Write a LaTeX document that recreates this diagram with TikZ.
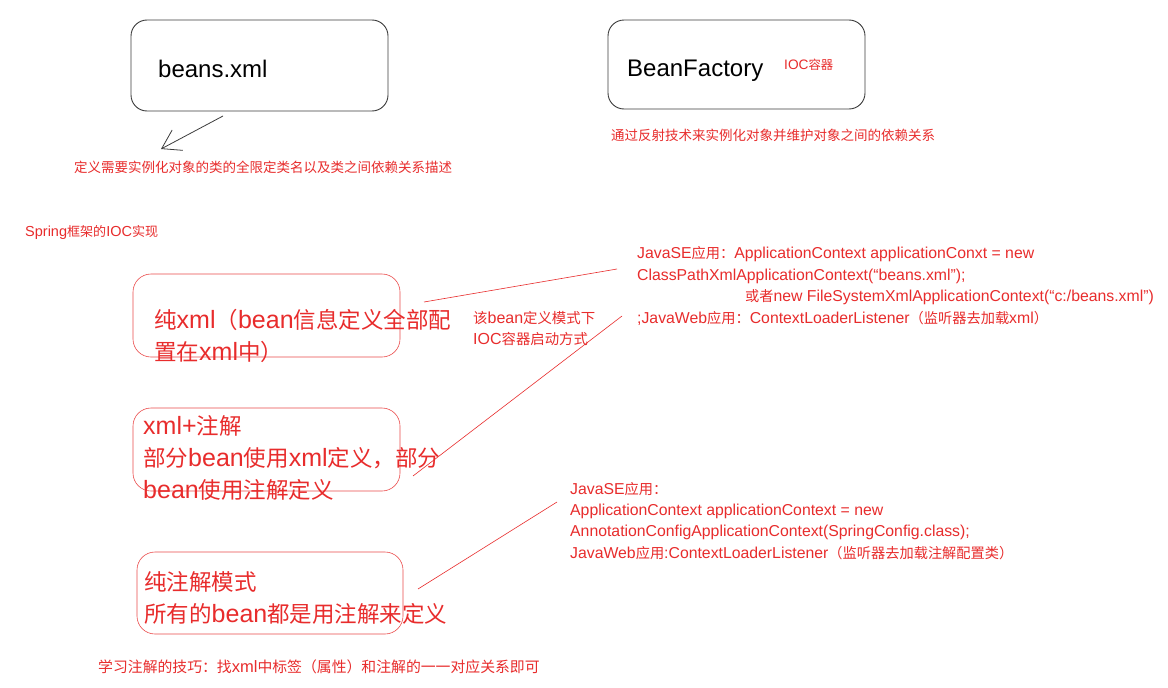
\documentclass[tikz,border=0pt]{standalone}
\usepackage{fontspec}
\setmainfont{Liberation Sans}
\newfontfamily\latinfont{Liberation Sans}
\newfontfamily\cjkfont[Scale=0.9]{Noto Sans CJK SC}
\usetikzlibrary{arrows.meta}
\definecolor{diagred}{RGB}{232, 44, 44}
\definecolor{boxgray}{RGB}{60, 60, 60}
\newcommand{\setfs}[2]{\fontsize{#1}{#2}\selectfont}

% switch to the CJK font for Chinese characters and back for Latin ones
\newXeTeXintercharclass\cjkclass
\newcount\cjkcount
\cjkcount="3000
\loop \XeTeXcharclass\cjkcount=\cjkclass \ifnum\cjkcount<"303F \advance\cjkcount by 1 \repeat
\cjkcount="4E00
\loop \XeTeXcharclass\cjkcount=\cjkclass \ifnum\cjkcount<"9FFF \advance\cjkcount by 1 \repeat
\cjkcount="FF00
\loop \XeTeXcharclass\cjkcount=\cjkclass \ifnum\cjkcount<"FFEF \advance\cjkcount by 1 \repeat
\XeTeXinterchartoks 0 \cjkclass = {\cjkfont}
\XeTeXinterchartoks 4095 \cjkclass = {\cjkfont}
\XeTeXinterchartoks \cjkclass 0 = {\latinfont}
\XeTeXinterchartoks 4095 0 = {\latinfont}
\XeTeXinterchartokenstate=1

\begin{document}
\begin{tikzpicture}[x=1pt, y=-1pt,
    plainbox/.style={draw=boxgray, line width=0.9pt, rounded corners=16pt, inner sep=0pt, minimum width=257pt},
    redbox/.style={draw=diagred!85, line width=0.6pt, rounded corners=18pt, inner sep=0pt},
    txt/.style={anchor=base west, inner sep=0pt, align=left},
    note/.style={txt, text=diagred},
    bignote/.style={note, font=\setfs{25}{32}},
    link/.style={diagred, line width=0.6pt},
    pointer/.style={draw=boxgray, line width=0.8pt, -{Straight Barb[length=18pt, width=23pt]}}]
    \fill[white] (0,0) rectangle (1168,688);
    \useasboundingbox (0,0) rectangle (1168,688);

    % top row
    \node[plainbox, minimum height=91pt] (beansbox) at (259.5,65.5) {};
    \node[txt, font=\setfs{24}{29}] (beans) at (158,77) {beans.xml};
    \node[plainbox, minimum height=89pt] (factorybox) at (736.5,64.5) {};
    \node[txt, font=\setfs{24}{29}] (factory) at (627,76) {BeanFactory};
    \node[note, font=\setfs{13.7}{16}] (ioc) at (784,69) {IOC容器};
    \node[note, font=\setfs{15}{18}] (reflect) at (611,140) {通过反射技术来实例化对象并维护对象之间的依赖关系};

    \coordinate (arrowtail) at (223,116);
    \coordinate (arrowhead) at (161,149);
    \draw[pointer] (arrowtail) -- (arrowhead);
    \node[note, font=\setfs{15}{18}] (defdesc) at (74,172) {定义需要实例化对象的类的全限定类名以及类之间依赖关系描述};

    \node[note, font=\setfs{14.5}{18}] (springioc) at (25,236) {Spring框架的IOC实现};

    % three modes (base = last line)
    \node[redbox, minimum width=267pt, minimum height=83pt] (xmlbox) at (266.5,315.5) {};
    \node[bignote] (xmltext) at (154,360) {纯xml（bean信息定义全部配\\置在xml中）};
    \node[redbox, minimum width=267pt, minimum height=83pt] (mixbox) at (266.5,449.5) {};
    \node[bignote] (mixtext) at (143,498) {xml+注解\\部分bean使用xml定义，部分\\bean使用注解定义};
    \node[redbox, minimum width=266pt, minimum height=82pt] (annobox) at (270,593) {};
    \node[bignote] (annotext) at (144,622) {纯注解模式\\所有的bean都是用注解来定义};

    \node[note, font=\setfs{16}{21}] (startmode) at (473,344.5) {该bean定义模式下\\IOC容器启动方式};

    % startup code
    \node[note, font=\setfs{15.8}{21.7}] (xmlcode) at (637,323.6) {JavaSE应用：ApplicationContext applicationConxt = new\\ClassPathXmlApplicationContext(“beans.xml”);\\\hspace*{108pt}或者new FileSystemXmlApplicationContext(“c:/beans.xml”)\\;JavaWeb应用：ContextLoaderListener（监听器去加载xml）};
    \node[note, font=\setfs{15.8}{21.3}] (annocode) at (570,558) {JavaSE应用：\\ApplicationContext applicationContext = new\\AnnotationConfigApplicationContext(SpringConfig.class);\\JavaWeb应用:ContextLoaderListener（监听器去加载注解配置类）};

    \coordinate (xmlfrom) at (424,302);
    \coordinate (xmlto) at (617,269);
    \coordinate (mixfrom) at (413,476);
    \coordinate (mixto) at (622,316);
    \coordinate (annofrom) at (418,589);
    \coordinate (annoto) at (557,502);
    \draw[link] (xmlfrom) -- (xmlto);
    \draw[link] (mixfrom) -- (mixto);
    \draw[link] (annofrom) -- (annoto);

    \node[note, font=\setfs{16.5}{20}] (tip) at (98,672.5) {学习注解的技巧：找xml中标签（属性）和注解的一一对应关系即可};
\end{tikzpicture}
\end{document}
